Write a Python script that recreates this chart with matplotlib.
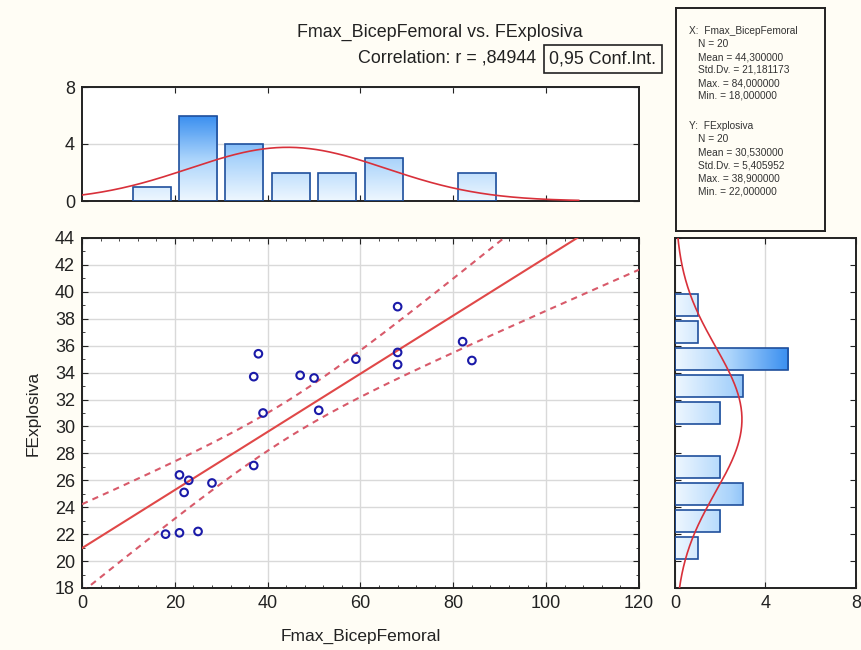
import numpy as np
import matplotlib
matplotlib.use('Agg')
import matplotlib.pyplot as plt
from matplotlib.colors import LinearSegmentedColormap
from matplotlib.ticker import MultipleLocator

plt.rcParams['font.family'] = ['Liberation Sans', 'DejaVu Sans']

# points
fmax_bicep = [68, 38, 37, 47, 50, 59, 68, 68, 82, 84, 39, 51, 37, 21, 23, 22, 28, 18, 21, 25]
f_explosiva = [38.9, 35.4, 33.7, 33.8, 33.6, 35.0, 35.5, 34.6, 36.3, 34.9,
               31.0, 31.2, 27.1, 26.4, 26.0, 25.1, 25.8, 22.0, 22.1, 22.2]

# histogram counts as shown (bins right-inclusive)
x_bin_edges = [10, 20, 30, 40, 50, 60, 70, 80, 90]
x_counts = [1, 6, 4, 2, 2, 3, 0, 2]
y_bin_edges = [20, 22, 24, 26, 28, 30, 32, 34, 36, 38, 40]
y_counts = [1, 2, 3, 2, 0, 2, 3, 5, 1, 1]

x_name = 'Fmax_BicepFemoral'
y_name = 'FExplosiva'
r_label = ',84944'
x_stats = ['N = 20', 'Mean = 44,300000', 'Std.Dv. = 21,181173', 'Max. = 84,000000', 'Min. = 18,000000']
y_stats = ['N = 20', 'Mean = 30,530000', 'Std.Dv. = 5,405952', 'Max. = 38,900000', 'Min. = 22,000000']

bg = '#fffdf5'
red = '#d8303a'
ink = '#222222'
cmap = LinearSegmentedColormap.from_list('statblue', ['#eef7ff', '#a9d3fb', '#3a8ff0'])

W, H = 862, 650
fig = plt.figure(figsize=(W / 100, H / 100), dpi=100, facecolor=bg)


def rect(l, t, r, b):
    return [l / W, 1 - b / H, (r - l) / W, (b - t) / H]


ax = fig.add_axes(rect(82, 238, 639, 588))
ax_top = fig.add_axes(rect(82, 87, 639, 201))
ax_right = fig.add_axes(rect(675, 238, 856, 588))
ax_box = fig.add_axes(rect(676, 8, 825, 231))

x = np.array(fmax_bicep, dtype=float)
y = np.array(f_explosiva, dtype=float)
n = len(x)


def style(a):
    for s in a.spines.values():
        s.set_linewidth(1.4)
        s.set_color(ink)
    a.tick_params(direction='in', which='both', top=True, right=True,
                  labelsize=13, colors=ink, pad=5)
    a.tick_params(which='major', length=4)
    a.tick_params(which='minor', length=2)


def gradient_bars(a, rects, horizontal, vmax):
    for r in rects:
        x0, y0 = r.get_x(), r.get_y()
        w, h = r.get_width(), r.get_height()
        if horizontal:
            grad = np.linspace(0, w / vmax, 64).reshape(1, -1)
        else:
            grad = np.linspace(0, h / vmax, 64).reshape(-1, 1)
        im = a.imshow(grad, cmap=cmap, vmin=0, vmax=1, extent=(x0, x0 + w, y0, y0 + h),
                      origin='lower', aspect='auto', interpolation='bilinear', zorder=2)
        im.set_clip_path(r)


# --- scatter with regression and 95% confidence band
ax.set_facecolor('white')
ax.grid(True, color='#d9d9d9', lw=1)
ax.set_axisbelow(True)
slope, icept = np.polyfit(x, y, 1)
xs = np.linspace(0, 120, 300)
fit = icept + slope * xs
resid = y - (icept + slope * x)
s_err = np.sqrt(np.sum(resid ** 2) / (n - 2))
sxx = np.sum((x - x.mean()) ** 2)
t_crit = 2.1009
half = t_crit * s_err * np.sqrt(1 / n + (xs - x.mean()) ** 2 / sxx)
ax.plot(xs, fit, color='#e04848', lw=1.5, zorder=3)
ax.plot(xs, fit + half, color='#d85a6a', lw=1.5, ls=(0, (3, 2.5)), zorder=3)
ax.plot(xs, fit - half, color='#d85a6a', lw=1.5, ls=(0, (3, 2.5)), zorder=3)
ax.scatter(x, y, s=30, facecolors='none', edgecolors='#1a1aa8', linewidths=1.5, zorder=4)
ax.set_xlim(0, 120)
ax.set_ylim(18, 44)
ax.xaxis.set_major_locator(MultipleLocator(20))
ax.xaxis.set_minor_locator(MultipleLocator(4))
ax.yaxis.set_major_locator(MultipleLocator(2))
ax.yaxis.set_minor_locator(MultipleLocator(1))
style(ax)
fig.text(361 / W, 1 - 636 / H, x_name, ha='center', va='center', fontsize=12.5, color=ink)
fig.text(33 / W, 1 - 413 / H, y_name, ha='center', va='center', rotation=90, fontsize=12.5, color=ink)

# --- top histogram (x)
ax_top.set_facecolor('white')
xc = [(x_bin_edges[i] + x_bin_edges[i + 1]) / 2 for i in range(len(x_counts))]
keep = [i for i in range(len(x_counts)) if x_counts[i] > 0]
bars = ax_top.bar([xc[i] for i in keep], [x_counts[i] for i in keep], width=8.2,
                  facecolor='none', edgecolor='#1f4f9c', lw=1.2, zorder=3)
gradient_bars(ax_top, bars.patches, False, 6)
mx, sx = x.mean(), x.std(ddof=1)
xcurve = np.linspace(0, 107, 300)
ax_top.plot(xcurve, n * 10 * np.exp(-0.5 * ((xcurve - mx) / sx) ** 2) / (sx * np.sqrt(2 * np.pi)),
            color=red, lw=1.2, zorder=4)
ax_top.set_xlim(0, 120)
ax_top.set_ylim(0, 8)
ax_top.set_xticks([20, 40, 60, 80, 100])
ax_top.set_yticks([0, 4, 8])
ax_top.grid(True, axis='y', color='#d9d9d9', lw=1)
ax_top.set_axisbelow(True)
style(ax_top)
ax_top.tick_params(labelbottom=False)

# --- right histogram (y)
ax_right.set_facecolor('white')
yc = [(y_bin_edges[i] + y_bin_edges[i + 1]) / 2 for i in range(len(y_counts))]
keep = [i for i in range(len(y_counts)) if y_counts[i] > 0]
bars = ax_right.barh([yc[i] for i in keep], [y_counts[i] for i in keep], height=1.65,
                     facecolor='none', edgecolor='#1f4f9c', lw=1.2, zorder=3)
gradient_bars(ax_right, bars.patches, True, 5)
my, sy = y.mean(), y.std(ddof=1)
ycurve = np.linspace(18, 44, 300)
ax_right.plot(n * 2 * np.exp(-0.5 * ((ycurve - my) / sy) ** 2) / (sy * np.sqrt(2 * np.pi)), ycurve,
              color=red, lw=1.2, zorder=4)
ax_right.set_xlim(0, 8)
ax_right.set_ylim(18, 44)
ax_right.set_xticks([0, 4, 8])
ax_right.yaxis.set_major_locator(MultipleLocator(2))
ax_right.grid(True, axis='x', color='#d9d9d9', lw=1)
ax_right.set_axisbelow(True)
style(ax_right)
ax_right.tick_params(labelleft=False)

# --- statistics box
ax_box.set_facecolor(bg)
ax_box.set_xticks([])
ax_box.set_yticks([])
for s in ax_box.spines.values():
    s.set_linewidth(1.4)
    s.set_color(ink)
bh = 231 - 8


def put(px, py, txt):
    ax_box.text((px - 676) / 149, 1 - (py - 8) / bh, txt, ha='left', va='center',
                fontsize=7.3, color='#333333', transform=ax_box.transAxes)


put(689, 31, 'X:  ' + x_name)
for i, t in enumerate(x_stats):
    put(698, 44 + 13 * i, t)
put(689, 126, 'Y:  ' + y_name)
for i, t in enumerate(y_stats):
    put(698, 139 + 13.2 * i, t)

# --- titles
fig.text(440 / W, 1 - 32 / H, x_name + ' vs. ' + y_name, ha='center', va='center',
         fontsize=12.9, color=ink)
fig.text(536 / W, 1 - 58 / H, 'Correlation: r = ' + r_label, ha='right', va='center',
         fontsize=12.9, color=ink)
fig.text(603 / W, 1 - 59 / H, '0,95 Conf.Int.', ha='center', va='center', fontsize=12.9,
         color=ink,
         bbox=dict(boxstyle='square,pad=0.28', fc=bg, ec=ink, lw=1.2))

fig.savefig('out.png', dpi=100, facecolor=bg)
